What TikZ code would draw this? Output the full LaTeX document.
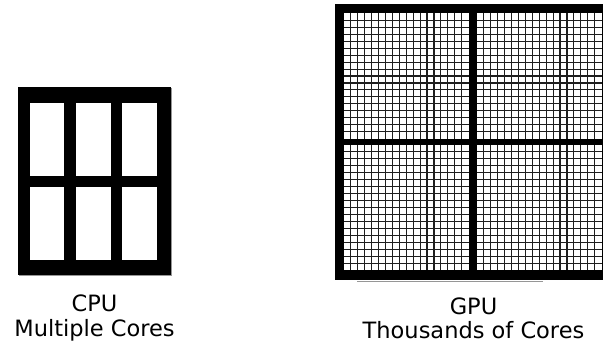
\documentclass[tikz,border=0pt]{standalone}
\usepackage{fontspec}
\setmainfont{DejaVu Sans}
\definecolor{coregray}{RGB}{30,30,30}
\definecolor{shadegray}{RGB}{150,150,150}
\usetikzlibrary{positioning}

\begin{document}
\begin{tikzpicture}[x=1pt,y=-1pt]
  \useasboundingbox (0,0) rectangle (603,344);
  \clip (0,0) rectangle (603,344);

  %% CPU die with six cores
  \fill[black] (18,87) rectangle (171,275);
  \draw[shadegray, line width=0.8pt] (171.5,88) -- (171.5,275.5) -- (19,275.5);
  \foreach \cx in {29.7,76,122.3} {
    \foreach \cy in {103.3,187.3} {
      \fill[white] (\cx,\cy) rectangle ++(34.5,72.7);
    }
  }

  %% GPU die: four blocks of many small cores
  \fill[black] (335,4) rectangle (612,280);
  \draw[shadegray, line width=1pt] (357,282) -- (543,282);
  \foreach \gx in {344,477} {
    \foreach \gy in {13.5,145} {
      \fill[white] (\gx,\gy) rectangle ++(124.6,125.1);
      \foreach \k in {1,...,17} {
        \draw[coregray, line width=1.1pt] (\gx+\k*6.92,\gy) -- ++(0,125.1);
        \draw[coregray, line width=1.1pt] (\gx,\gy+\k*6.95) -- ++(124.6,0);
      }
    }
  }

  %% Labels
  \node[font=\fontsize{22.5}{25}\selectfont, anchor=base, inner sep=0pt] (cputitle) at (94.5,311.7) {CPU};
  \node[font=\fontsize{22.5}{25}\selectfont, anchor=base, inner sep=0pt] (cpusub) at (94.5,336.5) {Multiple Cores};
  \node[font=\fontsize{22.5}{25}\selectfont, anchor=base, inner sep=0pt] (gputitle) at (473.5,314.5) {GPU};
  \node[font=\fontsize{22.5}{25}\selectfont, anchor=base, inner sep=0pt] (gpusub) at (473.5,338.5) {Thousands of Cores};
\end{tikzpicture}
\end{document}
